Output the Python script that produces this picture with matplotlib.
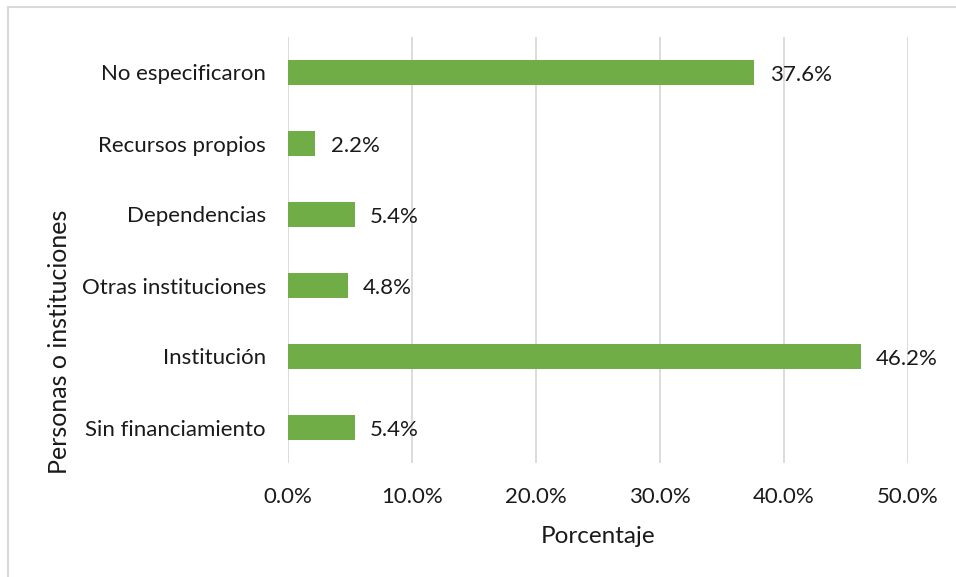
import numpy as np
import matplotlib.pyplot as plt
from matplotlib.patches import Rectangle
from matplotlib.ticker import FuncFormatter

# data (bottom to top as drawn)
categories = ['Sin financiamiento', 'Institución', 'Otras instituciones',
              'Dependencias', 'Recursos propios', 'No especificaron']
values = [5.4, 46.2, 4.8, 5.4, 2.2, 37.6]
xticks = [0, 10, 20, 30, 40, 50]

plt.rcParams['font.family'] = ['Lato', 'DejaVu Sans']
green = '#70AD47'
grid_c = '#d9d9d9'
txt_c = '#1a1a1a'

fig = plt.figure(figsize=(9.56, 5.77), dpi=100)
ax = fig.add_axes([288/956, 1-463/577, 620/956, 426/577])

y = np.arange(len(categories))
ax.barh(y, values, height=0.34, color=green, zorder=3)
for yi, v in zip(y, values):
    ax.annotate(f'{v:.1f}%', (v, yi), xytext=(11, -2), textcoords='offset points',
                va='center', ha='left', fontsize=16, color=txt_c)

ax.set_xlim(0, 50)
ax.set_ylim(-0.5, len(categories) - 0.5)
ax.set_xticks(xticks)
ax.xaxis.set_major_formatter(FuncFormatter(lambda v, p: f'{v:.1f}%'))
ax.set_yticks(y)
ax.set_yticklabels(categories)
ax.tick_params(axis='both', length=0, labelsize=16, colors=txt_c)
ax.tick_params(axis='x', pad=17)
ax.tick_params(axis='y', pad=16)
ax.grid(axis='x', color=grid_c, linewidth=1.3, zorder=0)
for s in ax.spines.values():
    s.set_visible(False)

ax.set_xlabel('Porcentaje', fontsize=17.5, color=txt_c, labelpad=14)
ax.set_ylabel('Personas o instituciones', fontsize=18, color=txt_c)
ax.yaxis.set_label_coords(-0.368, 0.285)
ax.yaxis.label.set_va('center')

# chart-area border (only left/top visible in reference)
fig.patches.append(Rectangle((8/956, -0.05), 1.2, 1 - 7/577 + 0.05,
                             transform=fig.transFigure, fill=False,
                             edgecolor=grid_c, linewidth=1.5))

fig.savefig('out.png', dpi=100)
